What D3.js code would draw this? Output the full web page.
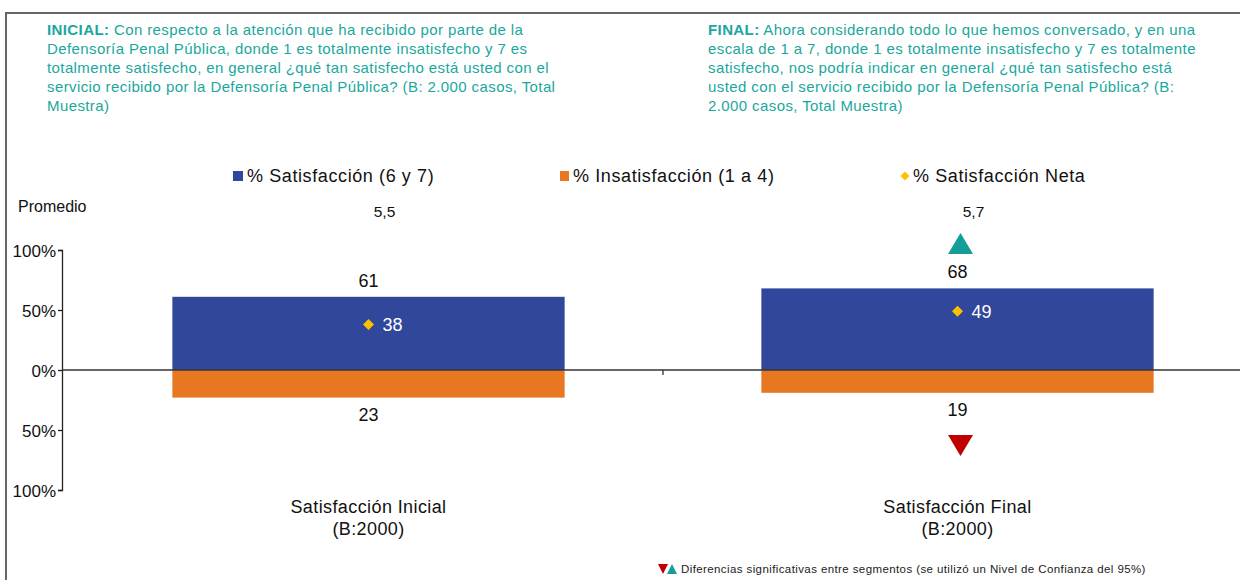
<!DOCTYPE html>
<html lang="es">
<head>
<meta charset="utf-8" />
<title>Satisfacción</title>
<script src="https://d3js.org/d3.v7.min.js"></script>
<style>
  body { margin: 0; background: #fff; }
  svg text { font-family: "Liberation Sans", Arial, sans-serif; }
</style>
</head>
<body>
<div id="container"></div>
<script>
// datos
var categories = ["Satisfacción Inicial", "Satisfacción Final"];
var baseLabel = ["(B:2000)", "(B:2000)"];
var satisfaccion = [61, 68];
var insatisfaccion = [23, 19];
var neta = [38, 49];
var promedio = ["5,5", "5,7"];
var sigUp = [false, true];
var sigDown = [false, true];
var yTicks = [-100, -50, 0, 50, 100];
var legendItems = ["% Satisfacción (6 y 7)", "% Insatisfacción (1 a 4)", "% Satisfacción Neta"];

var headerLeft = ["Con respecto a la atención que ha recibido por parte de la",
  "Defensoría Penal Pública, donde 1 es totalmente insatisfecho y 7 es",
  "totalmente satisfecho, en general ¿qué tan satisfecho está usted con el",
  "servicio recibido por la Defensoría Penal Pública? (B: 2.000 casos, Total",
  "Muestra)"];
var headerRight = ["Ahora considerando todo lo que hemos conversado, y en una",
  "escala de 1 a 7, donde 1 es totalmente insatisfecho y 7 es totalmente",
  "satisfecho, nos podría indicar en general ¿qué tan satisfecho está",
  "usted con el servicio recibido por la Defensoría Penal Pública? (B:",
  "2.000 casos, Total Muestra)"];

var width = 1240, height = 580;
var blue = "#30479c", orange = "#e87722", gold = "#ffc000";
var teal = "#1aa79d", tealTri = "#139e97", red = "#c00000";

var svg = d3.select("#container").append("svg")
  .attr("width", width).attr("height", height);

// marco
svg.append("rect")
  .attr("x", 6).attr("y", 13)
  .attr("width", width + 10).attr("height", height + 10)
  .style("fill", "none").style("stroke", "#666").style("stroke-width", 2);

// encabezados
function header(x, label, lines) {
  var t = svg.append("text").attr("x", x).attr("y", 35)
    .style("fill", teal).style("font-size", "15px").style("letter-spacing", "0.4px");
  lines.forEach(function (l, i) {
    var ts = t.append("tspan").attr("x", x).attr("dy", i == 0 ? 0 : 19);
    if (i == 0) {
      ts.append("tspan").style("font-weight", "bold").text(label);
      ts.append("tspan").text("  " + l);
    } else {
      ts.text(l);
    }
  });
}
header(47, "INICIAL:", headerLeft);
header(708, "FINAL:", headerRight);

// escalas
var y = d3.scaleLinear().domain([-100, 100]).range([490, 250]);
var x = d3.scaleBand().domain(categories).range([74, 1252]).paddingInner(0.334).paddingOuter(0.167);

var yAxis = d3.axisLeft(y).tickValues(yTicks).tickSize(4)
  .tickFormat(function (d) { return Math.abs(d) + "%"; });
var ga = svg.append("g").attr("transform", "translate(62,0)").call(yAxis);
ga.select(".domain").style("stroke", "#222").style("stroke-width", 1.3);
ga.selectAll(".tick line").style("stroke", "#222").style("stroke-width", 1.3);
ga.selectAll(".tick text").style("font-size", "17px").style("fill", "#111")
  .style("font-family", "Liberation Sans, Arial, sans-serif")
  .attr("x", -6).attr("dy", "0.36em");

// barras
svg.selectAll("rect.sat").data(categories).enter().append("rect")
  .attr("class", "sat")
  .attr("x", function (d) { return x(d); })
  .attr("width", x.bandwidth())
  .attr("y", function (d, i) { return y(satisfaccion[i]); })
  .attr("height", function (d, i) { return y(0) - y(satisfaccion[i]); })
  .style("fill", blue);

svg.selectAll("rect.ins").data(categories).enter().append("rect")
  .attr("class", "ins")
  .attr("x", function (d) { return x(d); })
  .attr("width", x.bandwidth())
  .attr("y", y(0))
  .attr("height", function (d, i) { return y(-insatisfaccion[i]) - y(0); })
  .style("fill", orange);

// linea cero
svg.append("line").attr("x1", 62).attr("x2", width).attr("y1", y(0)).attr("y2", y(0))
  .style("stroke", "#333").style("stroke-width", 1.3);
svg.append("line")
  .attr("x1", x(categories[1]) - x.step() * x.paddingInner() / 2)
  .attr("x2", x(categories[1]) - x.step() * x.paddingInner() / 2)
  .attr("y1", y(0)).attr("y2", y(0) + 5)
  .style("stroke", "#333").style("stroke-width", 1.3);

function cx(d) { return x(d) + x.bandwidth() / 2; }
function diamondPath(r) { return "M0," + (-r) + " L" + r + ",0 L0," + r + " L" + (-r) + ",0 Z"; }

// etiquetas de valor
svg.selectAll("text.satlbl").data(categories).enter().append("text")
  .attr("x", cx).attr("y", function (d, i) { return y(satisfaccion[i]) - 10; })
  .attr("text-anchor", "middle").style("font-size", "18px").style("fill", "#111")
  .text(function (d, i) { return satisfaccion[i]; });

svg.selectAll("text.inslbl").data(categories).enter().append("text")
  .attr("x", cx).attr("y", function (d, i) { return y(-insatisfaccion[i]) + 23; })
  .attr("text-anchor", "middle").style("font-size", "18px").style("fill", "#111")
  .text(function (d, i) { return insatisfaccion[i]; });

// satisfaccion neta
svg.selectAll("path.neta").data(categories).enter().append("path")
  .attr("d", diamondPath(5.5))
  .attr("transform", function (d, i) { return "translate(" + cx(d) + "," + y(neta[i]) + ")"; })
  .style("fill", gold);
svg.selectAll("text.netalbl").data(categories).enter().append("text")
  .attr("x", function (d) { return cx(d) + 14; })
  .attr("y", function (d, i) { return y(neta[i]) + 6.5; })
  .style("font-size", "18px").style("fill", "#fff")
  .text(function (d, i) { return neta[i]; });

// promedio
svg.append("text").attr("x", 18).attr("y", 212).style("font-size", "16px").style("fill", "#111").text("Promedio");
svg.selectAll("text.prom").data(categories).enter().append("text")
  .attr("x", function (d) { return cx(d) + 16; }).attr("y", 217)
  .attr("text-anchor", "middle").style("font-size", "15.5px").style("fill", "#111")
  .text(function (d, i) { return promedio[i]; });

// significancia
var tri = "M-12.5,10 L0,-11 L12.5,10 Z";
svg.selectAll("path.up").data(categories.filter(function (d, i) { return sigUp[i]; })).enter().append("path")
  .attr("d", tri)
  .attr("transform", function (d) { return "translate(" + (cx(d) + 3) + ",244)"; })
  .style("fill", tealTri);
svg.selectAll("path.down").data(categories.filter(function (d, i) { return sigDown[i]; })).enter().append("path")
  .attr("d", tri)
  .attr("transform", function (d) { return "translate(" + (cx(d) + 3) + ",445) rotate(180)"; })
  .style("fill", red);

// categorias
svg.selectAll("text.cat").data(categories).enter().append("text")
  .attr("x", cx).attr("y", 513)
  .attr("text-anchor", "middle").style("font-size", "18px").style("letter-spacing", "0.4px").style("fill", "#111")
  .each(function (d, i) {
    var t = d3.select(this);
    t.append("tspan").attr("x", cx(d)).text(d);
    t.append("tspan").attr("x", cx(d)).attr("dy", 22).text(baseLabel[i]);
  });

// leyenda
var lg = svg.append("g").attr("transform", "translate(0,176)");
lg.append("rect").attr("x", 233).attr("y", -5).attr("width", 10).attr("height", 10).style("fill", blue);
lg.append("text").attr("x", 247).attr("y", 6).style("font-size", "18px").style("letter-spacing", "0.6px").style("fill", "#111").text(legendItems[0]);
lg.append("rect").attr("x", 560).attr("y", -5).attr("width", 9).attr("height", 10).style("fill", orange);
lg.append("text").attr("x", 573).attr("y", 6).style("font-size", "18px").style("letter-spacing", "0.6px").style("fill", "#111").text(legendItems[1]);
lg.append("path").attr("d", diamondPath(4.5))
  .attr("transform", "translate(905,0)").style("fill", gold);
lg.append("text").attr("x", 913).attr("y", 6).style("font-size", "18px").style("letter-spacing", "0.6px").style("fill", "#111").text(legendItems[2]);

// nota
var nota = svg.append("g").attr("transform", "translate(0,569)");
nota.append("path").attr("d", "M658,-5 L668,-5 L663,5 Z").style("fill", red);
nota.append("path").attr("d", "M667,5 L672,-5 L677,5 Z").style("fill", tealTri);
nota.append("text").attr("x", 681).attr("y", 4).style("font-size", "11.5px").style("letter-spacing", "0.4px").style("fill", "#222")
  .text("Diferencias significativas entre segmentos (se utilizó  un Nivel de Confianza del 95%)");
</script>
</body>
</html>
